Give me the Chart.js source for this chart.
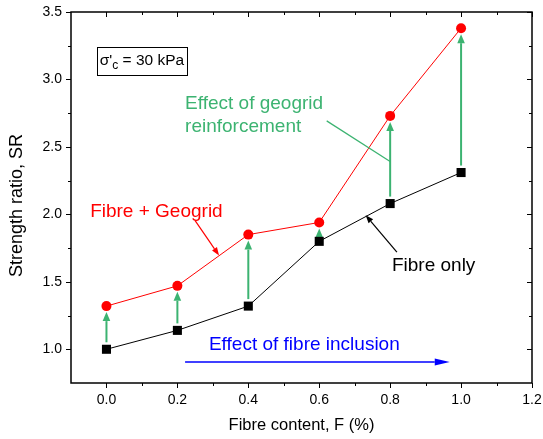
<!DOCTYPE html>
<html>
<head>
<meta charset="utf-8">
<script src="https://cdn.jsdelivr.net/npm/chart.js@4.4.1/dist/chart.umd.min.js"></script>
<style>
  html, body { margin: 0; padding: 0; background: #fff; }
  #wrap { width: 543px; height: 439px; position: relative; }
</style>
</head>
<body>
<div id="wrap"><canvas id="c" width="543" height="439"></canvas></div>
<script>
// ---- data ----
const fibreContent = [0.0, 0.2, 0.4, 0.6, 0.8, 1.0];
const fibreOnly = [1.00, 1.14, 1.32, 1.80, 2.08, 2.31];
const fibreGeogrid = [1.32, 1.47, 1.85, 1.94, 2.73, 3.38];
const xTickValues = [0.0, 0.2, 0.4, 0.6, 0.8, 1.0, 1.2];
const xMinorValues = [0.1, 0.3, 0.5, 0.7, 0.9, 1.1];
const yTickValues = [1.0, 1.5, 2.0, 2.5, 3.0, 3.5];
const yMinorValues = [1.25, 1.75, 2.25, 2.75, 3.25];
const seriesNames = ['Fibre only', 'Fibre + Geogrid'];
const xTitle = 'Fibre content, F (%)';
const yTitle = 'Strength ratio, SR';

const GREEN = '#3cb371';
const FONT = '"Liberation Sans", Arial, sans-serif';

function arrow(ctx, x1, y1, x2, y2, color, lw, headLen, headHalf) {
  const ang = Math.atan2(y2 - y1, x2 - x1);
  const bx = x2 - headLen * Math.cos(ang), by = y2 - headLen * Math.sin(ang);
  ctx.save();
  ctx.strokeStyle = color; ctx.fillStyle = color; ctx.lineWidth = lw;
  ctx.beginPath(); ctx.moveTo(x1, y1); ctx.lineTo(bx, by); ctx.stroke();
  ctx.beginPath();
  ctx.moveTo(x2, y2);
  ctx.lineTo(bx + headHalf * Math.sin(ang), by - headHalf * Math.cos(ang));
  ctx.lineTo(bx - headHalf * Math.sin(ang), by + headHalf * Math.cos(ang));
  ctx.closePath(); ctx.fill();
  ctx.restore();
}

const decor = {
  id: 'decor',
  beforeDatasetsDraw(chart) {
    const ctx = chart.ctx, xs = chart.scales.x, ys = chart.scales.y;
    // green arrows: effect of geogrid at each fibre content
    fibreContent.forEach((f, i) => {
      const x = xs.getPixelForValue(f);
      const yb = ys.getPixelForValue(fibreOnly[i]) - 7;
      const yt = ys.getPixelForValue(fibreGeogrid[i]) + 6;
      arrow(ctx, x, yb, x, yt, GREEN, 2, 9, 3.8);
    });
  },
  afterDraw(chart) {
    const ctx = chart.ctx, xs = chart.scales.x, ys = chart.scales.y, a = chart.chartArea;
    const X = v => xs.getPixelForValue(v), Y = v => ys.getPixelForValue(v);
    ctx.save();
    // frame
    ctx.strokeStyle = '#000'; ctx.lineWidth = 1.5;
    ctx.strokeRect(a.left, a.top, a.right - a.left, a.bottom - a.top);
    ctx.lineWidth = 1;
    ctx.beginPath();
    const tick = (vals, len) => {
      vals.forEach(v => {
        const px = Math.round(X(v)) + 0.5;
        ctx.moveTo(px, a.bottom); ctx.lineTo(px, a.bottom + len);
        ctx.moveTo(px, a.top); ctx.lineTo(px, a.top + len);
      });
    };
    tick(xTickValues, 5); tick(xMinorValues, 3);
    const ytick = (vals, len) => {
      vals.forEach(v => {
        const py = Math.round(Y(v)) + 0.5;
        ctx.moveTo(a.left, py); ctx.lineTo(a.left - len, py);
        ctx.moveTo(a.right, py); ctx.lineTo(a.right - len, py);
      });
    };
    ytick(yTickValues, 5); ytick(yMinorValues, 3);
    ctx.stroke();

    // axis titles
    ctx.fillStyle = '#000'; ctx.textAlign = 'center'; ctx.textBaseline = 'middle';
    ctx.font = '16.5px ' + FONT;
    ctx.fillText(xTitle, (a.left + a.right) / 2, 425);
    ctx.save();
    ctx.translate(17, (a.top + a.bottom) / 2 + 8);
    ctx.rotate(-Math.PI / 2);
    ctx.font = '18px ' + FONT;
    ctx.fillText(yTitle, 0, 0);
    ctx.restore();

    // sigma box
    ctx.lineWidth = 1; ctx.strokeStyle = '#000';
    const bx1 = X(-0.026), bx2 = X(0.227), by1 = Y(3.242), by2 = Y(3.034);
    ctx.strokeRect(Math.round(bx1) + 0.5, Math.round(by1) + 0.5, Math.round(bx2 - bx1), Math.round(by2 - by1));
    ctx.fillStyle = '#000'; ctx.textBaseline = 'alphabetic'; ctx.textAlign = 'left';
    let tx = X(-0.019); const tyb = Y(3.145) + 5.5;
    ctx.font = '15.5px ' + FONT;
    ctx.fillText("\u03c3'", tx, tyb); tx += ctx.measureText("\u03c3'").width;
    ctx.font = '12px ' + FONT;
    ctx.fillText('c', tx, tyb + 4); tx += ctx.measureText('c').width;
    ctx.font = '15.5px ' + FONT;
    ctx.fillText(' = 30 kPa', tx, tyb);

    // annotations text
    ctx.textBaseline = 'middle';
    ctx.font = '19px ' + FONT;
    ctx.fillStyle = GREEN;
    ctx.fillText('Effect of geogrid', X(0.2217), Y(2.821));
    ctx.fillText('reinforcement', X(0.2217), Y(2.648));
    ctx.strokeStyle = GREEN; ctx.lineWidth = 1.2;
    ctx.beginPath(); ctx.moveTo(X(0.621), Y(2.693)); ctx.lineTo(X(0.801), Y(2.390)); ctx.stroke();

    ctx.fillStyle = '#ff0000';
    ctx.fillText(seriesNames[1], X(-0.046), Y(2.019));
    arrow(ctx, X(0.250), Y(1.953), X(0.3175), Y(1.696), '#ff0000', 1.2, 8, 3);

    ctx.fillStyle = '#000';
    ctx.fillText(seriesNames[0], X(0.805), Y(1.618));
    arrow(ctx, X(0.819), Y(1.720), X(0.731), Y(1.994), '#000', 1.2, 8, 3);

    ctx.fillStyle = '#0000ff';
    ctx.fillText('Effect of fibre inclusion', X(0.289), Y(1.037));
    arrow(ctx, X(0.2217), Y(0.906), X(0.968), Y(0.906), '#0000ff', 1.5, 15, 3.5);
    ctx.restore();
  }
};

const zeroPad = s => { s.paddingLeft = 0; s.paddingRight = 0; s.paddingTop = 0; s.paddingBottom = 0; };

new Chart(document.getElementById('c'), {
  type: 'line',
  data: {
    datasets: [
      {
        label: seriesNames[0],
        data: fibreContent.map((f, i) => ({ x: f, y: fibreOnly[i] })),
        borderColor: '#000', backgroundColor: '#000', borderWidth: 1,
        pointStyle: 'rect', pointRadius: 6.4, pointBorderWidth: 0
      },
      {
        label: seriesNames[1],
        data: fibreContent.map((f, i) => ({ x: f, y: fibreGeogrid[i] })),
        borderColor: '#ff0000', backgroundColor: '#ff0000', borderWidth: 1,
        pointStyle: 'circle', pointRadius: 5, pointBorderWidth: 0
      }
    ]
  },
  options: {
    responsive: false, animation: false,
    layout: { padding: { top: 12, right: 11, left: 0, bottom: 0 } },
    plugins: { legend: { display: false }, tooltip: { enabled: false } },
    scales: {
      x: {
        type: 'linear', min: -0.1, max: 1.2,
        afterBuildTicks: s => { s.ticks = xTickValues.map(v => ({ value: v })); },
        afterFit: s => { s.height = 56; zeroPad(s); },
        grid: { display: false, drawTicks: false },
        border: { display: false },
        ticks: { color: '#000', padding: 9, font: { family: FONT, size: 14 }, callback: v => Number(v).toFixed(1), maxRotation: 0 },
        title: { display: false }
      },
      y: {
        type: 'linear', min: 0.75, max: 3.5,
        afterBuildTicks: s => { s.ticks = yTickValues.map(v => ({ value: v })); },
        afterFit: s => { s.width = 71; zeroPad(s); },
        grid: { display: false, drawTicks: false },
        border: { display: false },
        ticks: { color: '#000', padding: 9, font: { family: FONT, size: 14 }, callback: v => Number(v).toFixed(1) },
        title: { display: false }
      }
    }
  },
  plugins: [decor]
});
</script>
</body>
</html>
